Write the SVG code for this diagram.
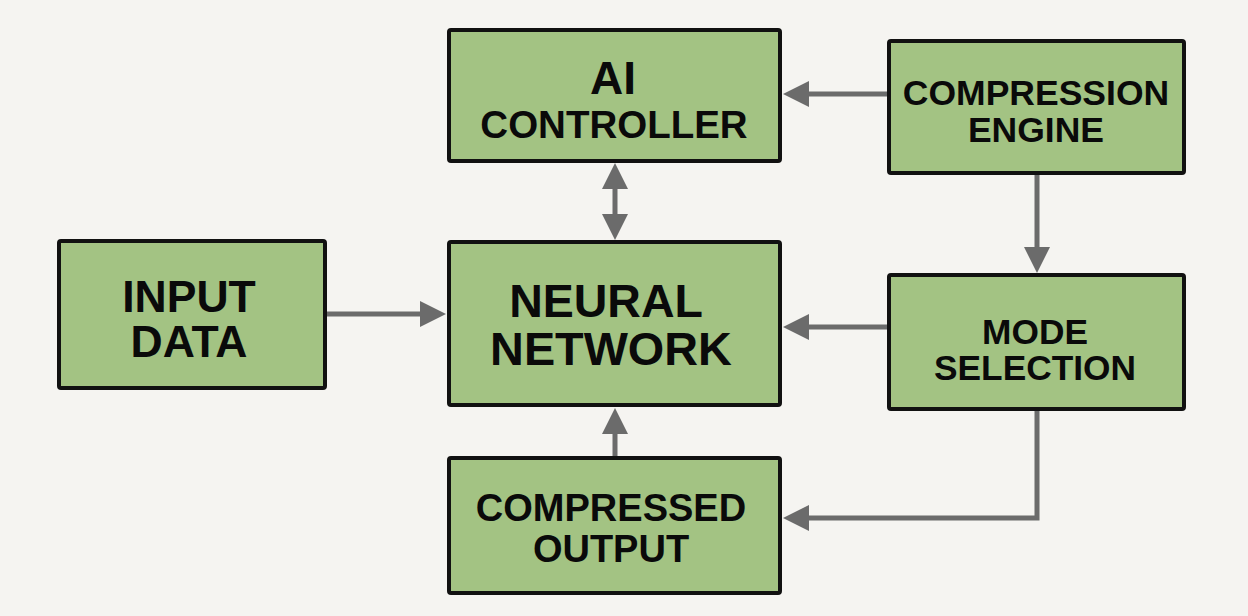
<svg xmlns="http://www.w3.org/2000/svg" width="1248" height="616" viewBox="0 0 1248 616">
<style>
.box{fill:#a3c383;stroke:#111;stroke-width:4;}
.t{font-family:"Liberation Sans",Arial,sans-serif;font-weight:bold;fill:#0a0a0a;text-anchor:middle;}
.c{fill:none;stroke:#6b6b6b;stroke-width:5;}
</style>
<defs>
<marker id="ah" viewBox="0 0 26 26" refX="2" refY="13" markerWidth="26" markerHeight="26" markerUnits="userSpaceOnUse" orient="auto-start-reverse">
<path d="M0,0 L26,13 L0,26 z" fill="#6b6b6b"/>
</marker>
</defs>
<rect width="1248" height="616" fill="#f5f4f1"/>
<g id="connectors">
<line class="c" x1="887" y1="94" x2="807" y2="94" marker-end="url(#ah)"/>
<line class="c" x1="615" y1="187" x2="615" y2="216" marker-start="url(#ah)" marker-end="url(#ah)"/>
<line class="c" x1="1037" y1="175" x2="1037" y2="249" marker-end="url(#ah)"/>
<line class="c" x1="887" y1="327" x2="807" y2="327" marker-end="url(#ah)"/>
<path class="c" d="M1037,411 V518 H807" marker-end="url(#ah)"/>
<line class="c" x1="615" y1="456" x2="615" y2="432" marker-end="url(#ah)"/>
<line class="c" x1="327" y1="314" x2="422" y2="314" marker-end="url(#ah)"/>
</g>
<g id="ai-controller">
<rect class="box" x="449" y="30" width="331" height="131" rx="2"/>
<text class="t" x="613" y="94" font-size="46">AI</text>
<text class="t" x="614" y="138" font-size="38.5">CONTROLLER</text>
</g>
<g id="compression-engine">
<rect class="box" x="889" y="41" width="295" height="132" rx="2"/>
<text class="t" x="1036" y="105" font-size="35.5">COMPRESSION</text>
<text class="t" x="1036" y="142" font-size="35.5">ENGINE</text>
</g>
<g id="input-data">
<rect class="box" x="59" y="241" width="266" height="147" rx="2"/>
<text class="t" x="189" y="312" font-size="44.5">INPUT</text>
<text class="t" x="189" y="357" font-size="44.5">DATA</text>
</g>
<g id="neural-network">
<rect class="box" x="449" y="242" width="331" height="163" rx="2"/>
<text class="t" x="606" y="317" font-size="46.5">NEURAL</text>
<text class="t" x="611" y="365" font-size="46.8">NETWORK</text>
</g>
<g id="mode-selection">
<rect class="box" x="889" y="275" width="295" height="134" rx="2"/>
<text class="t" x="1035" y="344" font-size="35.3">MODE</text>
<text class="t" x="1035" y="380" font-size="35.3">SELECTION</text>
</g>
<g id="compressed-output">
<rect class="box" x="449" y="458" width="331" height="135" rx="2"/>
<text class="t" x="611" y="521" font-size="38">COMPRESSED</text>
<text class="t" x="611" y="562" font-size="38">OUTPUT</text>
</g>
</svg>
